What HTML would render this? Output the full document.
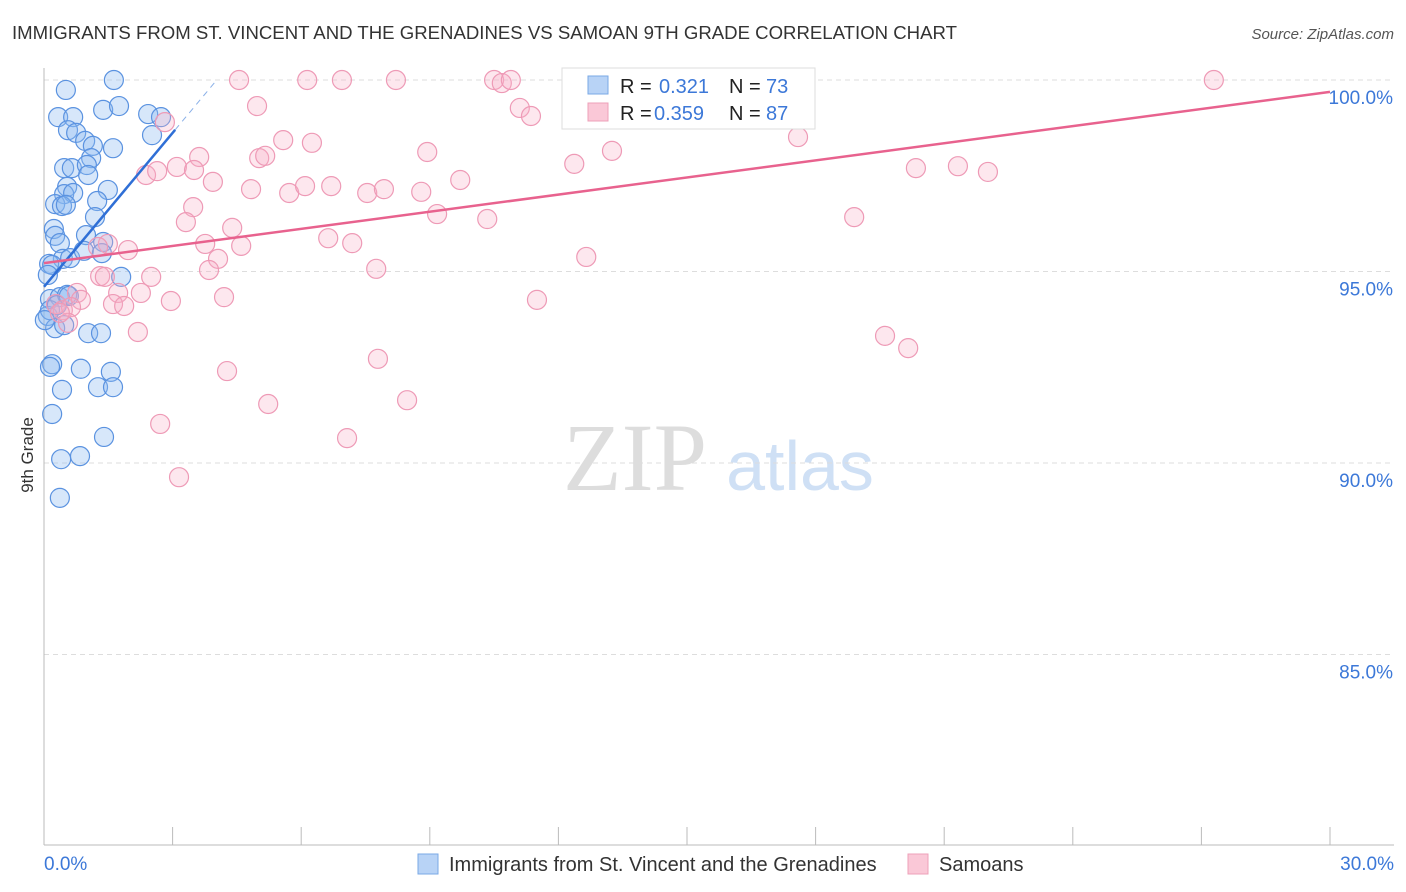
<!DOCTYPE html>
<html><head><meta charset="utf-8"><style>
body{margin:0;background:#fff;font-family:"Liberation Sans",sans-serif;}
svg{display:block}
</style></head><body>
<svg id="c" width="1406" height="892">
<text x="12" y="39" font-size="18.6" fill="#333">IMMIGRANTS FROM ST. VINCENT AND THE GRENADINES VS SAMOAN 9TH GRADE CORRELATION CHART</text>
<text x="1394" y="39" font-size="15" fill="#555" font-style="italic" text-anchor="end">Source: ZipAtlas.com</text>
<text x="33" y="455" font-size="17" fill="#333" transform="rotate(-90 33 455)" text-anchor="middle">9th Grade</text>
<g><text x="635" y="490" font-size="96" fill="#ddd" font-family="Liberation Serif,serif" text-anchor="middle">ZIP</text><text x="800" y="490" font-size="70" fill="#cfe0f5" text-anchor="middle">atlas</text></g>
<g id="grid"></g><g id="axes"></g><g id="pts"></g><g id="trend"></g>
<g>
<rect x="562" y="68" width="253" height="61" fill="#fff" stroke="#ddd"/>
<rect x="588" y="76" width="20" height="18" fill="#b8d3f6" stroke="#7aa8e6"/>
<text x="620" y="93" font-size="20" fill="#222">R =</text><text x="659" y="93" font-size="20" fill="#3c78d8">0.321</text>
<text x="729" y="93" font-size="20" fill="#222">N =</text><text x="766" y="93" font-size="20" fill="#3c78d8">73</text>
<rect x="588" y="103" width="20" height="18" fill="#fac8d7" stroke="#eea0b8"/>
<text x="620" y="120" font-size="20" fill="#222">R =</text><text x="654" y="120" font-size="20" fill="#3c78d8">0.359</text>
<text x="729" y="120" font-size="20" fill="#222">N =</text><text x="766" y="120" font-size="20" fill="#3c78d8">87</text>
</g>
<g>
<rect x="418" y="854" width="20" height="20" fill="#b8d3f6" stroke="#7aa8e6"/>
<text x="449" y="871" font-size="20" fill="#333">Immigrants from St. Vincent and the Grenadines</text>
<rect x="908" y="854" width="20" height="20" fill="#fac8d7" stroke="#eea0b8"/>
<text x="939" y="871" font-size="20" fill="#333">Samoans</text>
</g>
</svg>
<script>
const blueX=[1.63,0.51,0.33,0.68,1.38,1.75,2.43,2.73,0.56,0.75,0.96,1.14,1.61,1.10,0.47,0.65,1.00,1.03,1.49,0.54,0.47,0.68,0.26,0.42,0.51,1.24,1.19,2.52,0.23,0.26,0.37,0.98,0.44,0.61,1.38,0.93,1.35,0.12,0.19,0.09,1.80,0.14,0.37,0.54,0.58,0.09,0.26,0.47,1.03,1.33,0.19,0.14,0.86,1.56,0.42,1.26,1.61,0.19,1.40,0.40,0.84,0.37,0.14,0.30,0.02];
const blueY=[100,99.74,99.03,99.03,99.22,99.32,99.11,99.03,98.69,98.62,98.41,98.28,98.22,97.96,97.70,97.70,97.78,97.52,97.13,97.21,97.02,97.05,96.76,96.71,96.74,96.84,96.42,98.56,96.11,95.93,95.74,95.95,95.33,95.35,95.77,95.54,95.48,95.20,95.17,94.91,94.86,94.28,94.33,94.39,94.36,93.84,93.52,93.60,93.39,93.39,92.58,92.51,92.46,92.38,91.91,91.98,91.98,91.28,90.68,90.10,90.18,89.09,93.99,94.12,93.73];
const pinkX=[4.55,6.14,6.95,8.21,10.50,10.68,10.89,13.97,15.02,27.29,2.82,4.97,11.10,11.36,5.58,6.25,8.94,13.25,17.59,3.62,5.02,5.16,12.37,2.38,2.64,3.10,3.50,3.94,4.83,5.72,6.09,6.70,7.54,7.93,8.80,9.71,20.34,21.32,22.02,3.48,3.31,4.39,9.17,10.34,18.90,1.49,1.96,3.76,4.60,6.63,7.19,4.06,12.65,1.31,1.42,2.50,3.85,7.75,0.77,0.86,1.73,2.26,2.96,4.20,11.50,0.28,0.44,0.63,1.61,1.87,0.56,2.19,19.62,20.16,7.79,4.27,5.23,8.47,2.71,7.07,3.15,1.26,0.37];
const pinkY=[100,100,100,100,100,99.92,100,100,100,100,98.90,99.32,99.27,99.06,98.43,98.36,98.12,98.15,98.51,97.99,97.96,98.02,97.81,97.52,97.62,97.73,97.65,97.34,97.15,97.05,97.23,97.23,97.05,97.15,97.08,97.39,97.70,97.75,97.60,96.68,96.29,96.14,96.50,96.37,96.42,95.72,95.56,95.72,95.67,95.87,95.74,95.33,95.38,94.88,94.86,94.86,95.04,95.07,94.44,94.26,94.44,94.44,94.23,94.33,94.26,94.15,93.99,94.07,94.15,94.10,93.66,93.42,93.32,93.00,92.72,92.40,91.54,91.64,91.02,90.65,89.63,95.64,93.92];
const blueTrend=[94.6,1.34];
const pinkTrend=[95.22,0.149];
const yTicks=[100,95,90,85];
const xTickLabels=["0.0%","30.0%"];
const NS="http://www.w3.org/2000/svg";
const sx=v=>44+v/30*1286, sy=v=>80+(100-v)*38.3;
function mk(p,t,a){const e=document.createElementNS(NS,t);for(const k in a)e.setAttribute(k,a[k]);document.getElementById(p).appendChild(e);return e;}
yTicks.forEach(t=>{
 const l=mk('grid','line',{x1:44,x2:1394,y1:sy(t),y2:sy(t),stroke:'#ddd','stroke-dasharray':'5,4'});
 
 
 const tx=mk('grid','text',{x:1393,y:sy(t)+24,'font-size':19,fill:'#3c78d8','text-anchor':'end'});tx.textContent=t.toFixed(1)+'%';
 
 
});
mk('axes','line',{x1:44,x2:44,y1:68,y2:845,stroke:'#bbb'});
mk('axes','line',{x1:44,x2:1394,y1:845,y2:845,stroke:'#bbb'});
for(let i=0;i<=10;i++){mk('axes','line',{x1:sx(i*3),x2:sx(i*3),y1:827,y2:845,stroke:'#bbb'});}
const xl0=mk('axes','text',{x:44,y:870,'font-size':19,fill:'#3c78d8'});xl0.textContent=xTickLabels[0];


const xl1=mk('axes','text',{x:1394,y:870,'font-size':19,fill:'#3c78d8','text-anchor':'end'});xl1.textContent=xTickLabels[1];


blueX.forEach((x,i)=>{const c=mk('pts','circle',{cx:sx(x),cy:sy(blueY[i]),r:9.5,fill:'rgba(140,185,240,0.35)',stroke:'#5a92e0','stroke-width':1.2});
 
 });
pinkX.forEach((x,i)=>{const c=mk('pts','circle',{cx:sx(x),cy:sy(pinkY[i]),r:9.5,fill:'rgba(248,175,200,0.3)',stroke:'#ee9ab6','stroke-width':1.2});
 
 });
const bEnd=3.06, bDash=(100-blueTrend[0])/blueTrend[1];
const bl=mk('trend','line',{x1:sx(0),y1:sy(blueTrend[0]),x2:sx(bEnd),y2:sy(blueTrend[0]+blueTrend[1]*bEnd),stroke:'#2f6fd6','stroke-width':2.5});


mk('trend','line',{x1:sx(bEnd),y1:sy(blueTrend[0]+blueTrend[1]*bEnd),x2:sx(bDash),y2:sy(100),stroke:'#8ab0e8','stroke-width':1,'stroke-dasharray':'6,5'});
const pl=mk('trend','line',{x1:sx(0),y1:sy(pinkTrend[0]),x2:sx(30),y2:sy(pinkTrend[0]+pinkTrend[1]*30),stroke:'#e8628e','stroke-width':2.5});


</script>
</body></html>
